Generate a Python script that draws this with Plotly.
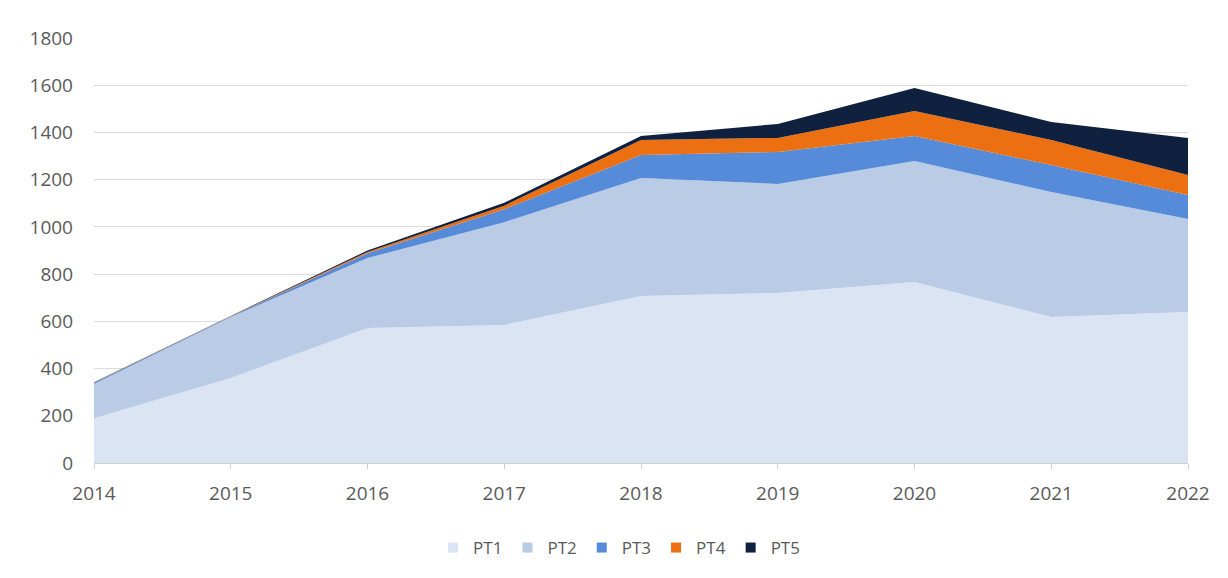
import plotly.graph_objects as go

years = [2014, 2015, 2016, 2017, 2018, 2019, 2020, 2021, 2022]
pt1 = [190, 360, 572, 585, 707, 720, 767, 618, 640]
pt2 = [145, 258, 296, 435, 500, 462, 512, 530, 393]
pt3 = [5, 3, 20, 55, 98, 135, 106, 114, 102]
pt4 = [1, 1, 6, 15, 63, 60, 106, 106, 85]
pt5 = [1, 1, 6, 12, 17, 59, 97, 76, 156]

series = [
    ("PT1", pt1, "#dae4f2"),
    ("PT2", pt2, "#b9cbe5"),
    ("PT3", pt3, "#558bd8"),
    ("PT4", pt4, "#ec6f12"),
    ("PT5", pt5, "#0f213f"),
]

fig = go.Figure()
for name, vals, col in series:
    fig.add_trace(go.Scatter(
        x=years, y=vals, name=name, mode="lines",
        stackgroup="one", line=dict(width=0, color=col),
        fillcolor=col, showlegend=False, legendgroup=name,
    ))
# legend entries with square swatches
for name, vals, col in series:
    fig.add_trace(go.Scatter(
        x=[None], y=[None], name=name, mode="markers",
        marker=dict(symbol="square", size=10, color=col),
        legendgroup=name, showlegend=True,
    ))

fig.update_layout(
    width=1228, height=578,
    paper_bgcolor="white", plot_bgcolor="white",
    margin=dict(l=86, r=48, t=30, b=123),
    font=dict(family="Open Sans, Noto Sans, sans-serif", size=19, color="#5a5a5a"),
    showlegend=True,
    legend=dict(orientation="h", x=0.48, xanchor="center", y=-0.2, yanchor="middle",
                font=dict(size=17, color="#5a5a5a"), traceorder="normal",
                itemwidth=30, tracegroupgap=0),
    xaxis=dict(range=[2014, 2022], tickmode="array", tickvals=years,
               showgrid=False, showline=True, linecolor="#d0d0d0", linewidth=1,
               ticks="outside", ticklen=5, tickcolor="#d0d0d0", zeroline=False,
               ticklabelstandoff=8),
    yaxis=dict(range=[0, 1800], dtick=200, showgrid=True, gridcolor="#dcdcdc",
               gridwidth=1, zeroline=False, showline=False, ticks="",
               ticklabelstandoff=20),
)

fig.write_html("out.html")
